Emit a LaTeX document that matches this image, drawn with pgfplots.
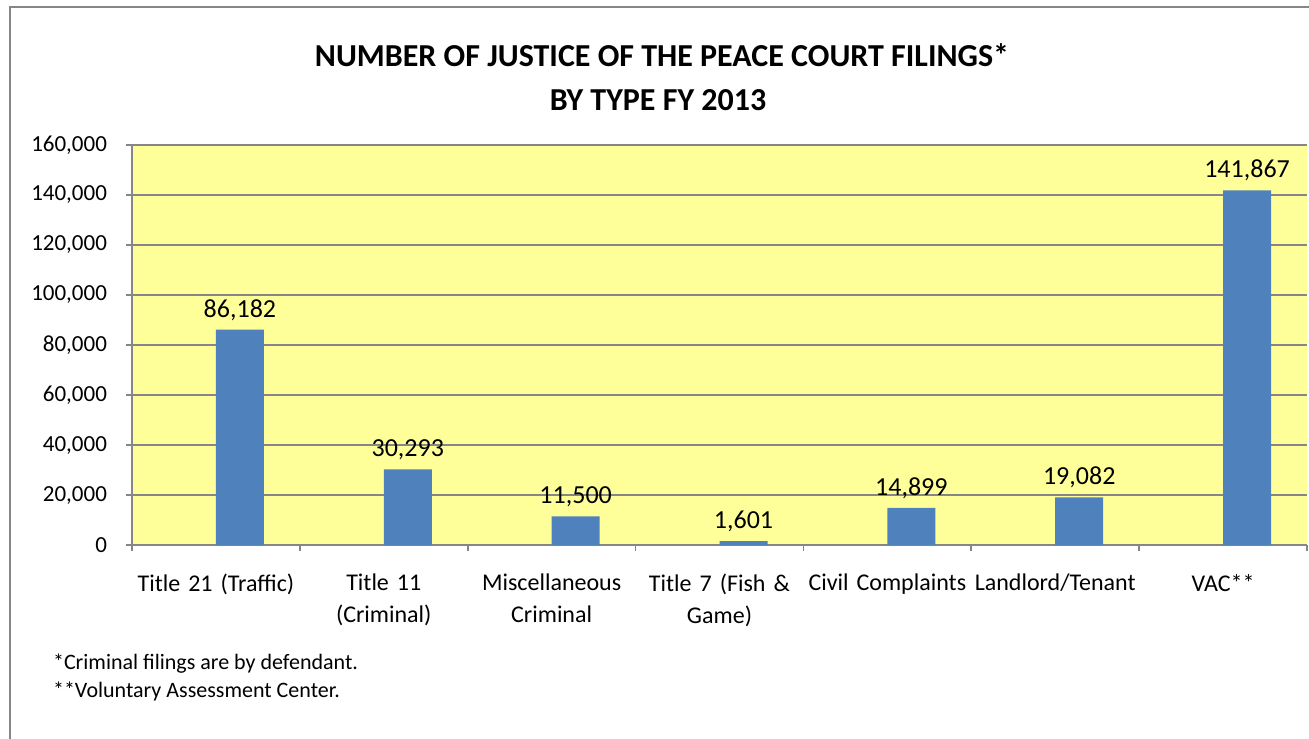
\documentclass[border=0pt]{standalone}
\usepackage{pgfplots}
\pgfplotsset{compat=1.18}
\usepackage{fontspec}
\setmainfont{Carlito}
\definecolor{plotbg}{HTML}{FFFF99}
\definecolor{barblue}{HTML}{4F81BD}
\definecolor{linegray}{HTML}{868686}
\begin{document}
\begin{tikzpicture}
\useasboundingbox (0,0) rectangle (654.5pt,-369pt);
\draw[linegray, line width=1pt] (5pt,-3.5pt) rectangle (700pt,-420pt);
\node[font=\fontsize{16}{18}\selectfont\bfseries] at (331pt,-27.5pt) {NUMBER OF JUSTICE OF THE PEACE COURT FILINGS*};
\node[font=\fontsize{16}{18}\selectfont\bfseries] at (329pt,-50pt) {BY TYPE FY 2013};
\begin{axis}[
  at={(66pt,-272.5pt)}, anchor=south west,
  scale only axis,
  width=587.5pt, height=200pt,
  axis background/.style={fill=plotbg},
  axis lines=left,
  axis line style={-, linegray, line width=1pt},
  ymin=0, ymax=160000,
  ytick distance=20000,
  ymajorgrids,
  grid style={linegray, line width=0.8pt},
  xmin=-0.5, xmax=6.5,
  xtick={0,...,6},
  xticklabels={Title 21 (Traffic), Title 11\\(Criminal), Miscellaneous\\Criminal,
    Title 7 (Fish \&\\Game), Civil Complaints, Landlord/Tenant, VAC**},
  minor xtick={-0.5,0.5,...,6.5},
  major x tick style={draw=none},
  minor x tick style={linegray, line width=0.8pt},
  ytick style={linegray, line width=0.8pt},
  tick align=outside,
  major tick length=3pt,
  minor tick length=3pt,
  scaled ticks=false,
  /pgf/number format/.cd, fixed, 1000 sep={,}, assume math mode=true,
  /pgfplots/.cd,
  yticklabel style={font=\fontsize{11.5}{14}\selectfont, xshift=-6pt},
  xticklabel style={font=\fontsize{12}{16}\selectfont, align=center, text width=90pt, yshift=-8pt},
  nodes near coords,
  every node near coord/.append style={font=\fontsize{13}{15}\selectfont, black, xshift=12pt, yshift=1pt},
]
\addplot[ybar, bar width=24pt, bar shift=12pt, fill=barblue, draw=none]
  coordinates {(0,86182) (1,30293) (2,11500) (3,1601) (4,14899) (5,19082) (6,141867)};
\end{axis}
\node[font=\fontsize{11}{13}\selectfont, anchor=base west] at (23pt,-334.5pt) {*Criminal filings are by defendant.};
\node[font=\fontsize{11}{13}\selectfont, anchor=base west] at (23pt,-348.5pt) {**Voluntary Assessment Center.};
\end{tikzpicture}
\end{document}
